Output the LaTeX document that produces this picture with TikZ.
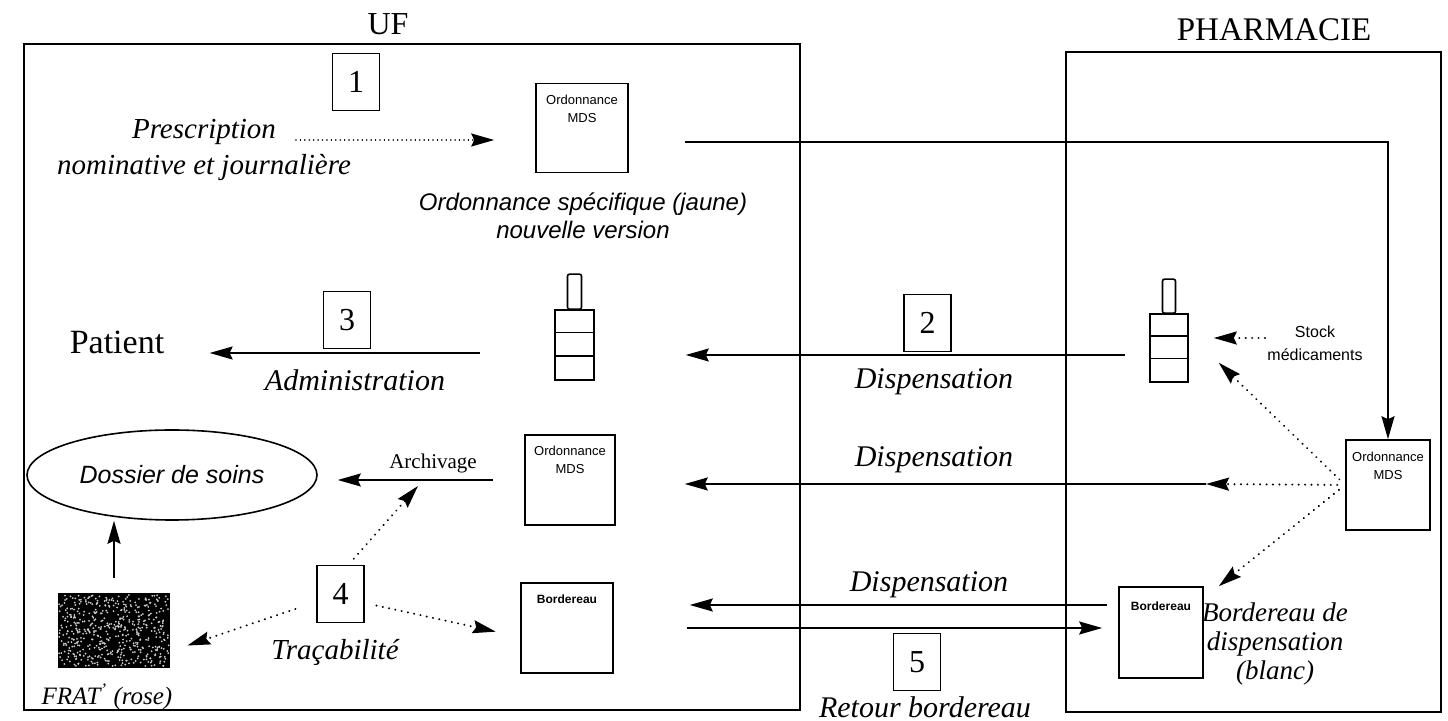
\documentclass[tikz,border=0pt]{standalone}
\usepackage{fontspec}
\setmainfont{Liberation Serif}
\setsansfont{Liberation Sans}
\usetikzlibrary{arrows.meta,calc,shapes.geometric}
\begin{document}
\begin{tikzpicture}[x=0.5pt,y=-0.5pt,
  frame/.style={draw, line width=1pt},
  tipsty/.tip={Stealth[length=11.5pt,width=6.5pt,inset=1.5pt]},
  arr/.style={line width=0.85pt, -tipsty},
  dotarr/.style={line width=1.1pt, dash pattern=on 0.01pt off 3.2pt, line cap=round, -tipsty},
  finedot/.style={line width=0.8pt, dash pattern=on 0.01pt off 2.2pt, line cap=round, -tipsty},
  numbox/.style={draw, line width=0.8pt, minimum width=23.5pt, minimum height=28.5pt, inner sep=0pt, font=\fontsize{16}{18}\selectfont},
  docbox/.style={draw, line width=0.8pt, inner sep=0pt},
  doclab/.style={font=\sffamily\fontsize{6.5}{9}\selectfont, align=center, inner sep=0pt, anchor=north},
  itlab/.style={font=\itshape\fontsize{15}{18}\selectfont, inner sep=0pt, align=center},
  bline/.style={line width=0.8pt}
]
\useasboundingbox (0,0) rectangle (1448,721);

% frames and titles
\draw[frame] (24,44) rectangle (800,710);
\draw[frame] (1066,52) rectangle (1441,712);
\node[font=\fontsize{16}{18}\selectfont, inner sep=0pt] (uflab) at (388,24) {UF};
\node[font=\fontsize{16.5}{18}\selectfont, inner sep=0pt] (pharmlab) at (1274,30) {PHARMACIE};

% number boxes
\node[numbox] (n1) at (356,82) {1};
\node[numbox] (n3) at (347,320) {3};
\node[numbox] (n2) at (927.5,323) {2};
\node[numbox] (n4) at (340.5,594) {4};
\node[numbox] (n5) at (917,662) {5};

% step 1
\node[itlab, font=\itshape\fontsize{14.5}{18}\selectfont] (presc) at (204,150) {Prescription\\nominative et journalière};
\node[docbox, minimum width=46pt, minimum height=44.5pt] (ord1) at (582,128) {};
\node[doclab] (ord1lab) at ($(ord1.north)+(0,12)$) {Ordonnance\\MDS};
\node[font=\sffamily\itshape\fontsize{12}{14}\selectfont, align=center, inner sep=0pt] (ordspec) at (583,216) {Ordonnance spécifique (jaune)\\nouvelle version};
\coordinate (prestart) at (296,140);
\draw[finedot, shorten >=20.5pt] (prestart) -- (prestart -| ord1.west);

% pharmacy ordonnance
\node[docbox, minimum width=42pt, minimum height=45pt] (ord3) at (1388,485) {};
\node[doclab] (ord3lab) at ($(ord3.north)+(0,12)$) {Ordonnance\\MDS};
\draw[arr] ($(ord1.east)+(56,14)$) -| (ord3.north);

% bottles
\node[docbox, minimum width=19.5pt, minimum height=35pt] (b1) at (574.5,345) {};
\draw[bline, rounded corners=1pt] ($(b1.north)+(-7,0)$) rectangle ($(b1.north)+(7,-35)$);
\draw[bline] ($(b1.north west)+(0,23.3)$) -- ($(b1.north east)+(0,23.3)$);
\draw[bline] ($(b1.north west)+(0,46.7)$) -- ($(b1.north east)+(0,46.7)$);
\node[docbox, minimum width=19pt, minimum height=34pt] (b2) at (1169,348) {};
\draw[bline, rounded corners=1pt] ($(b2.north)+(-6.5,0)$) rectangle ($(b2.north)+(6.5,-34)$);
\draw[bline] ($(b2.north west)+(0,22.7)$) -- ($(b2.north east)+(0,22.7)$);
\draw[bline] ($(b2.north west)+(0,45.3)$) -- ($(b2.north east)+(0,45.3)$);

% patient / administration
\node[font=\fontsize{17}{20}\selectfont, inner sep=0pt] (patient) at (117,342) {Patient};
\coordinate (a3s) at ($(b1.west)+(0,8)$);
\draw[arr, shorten <=37pt, shorten >=22.5pt] (a3s) -- (a3s -| patient.east);
\node[itlab] (admin) at (355,380) {Administration};

% dispensation 2 (bottle)
\coordinate (a2s) at ($(b2.west)+(0,7)$);
\draw[arr, shorten <=12pt, shorten >=45.5pt] (a2s) -- (a2s -| b1.east);
\node[itlab] (disp1) at (934,382) {Dispensation};

% stock
\node[font=\sffamily\fontsize{8}{11.5}\selectfont, align=center, inner sep=1pt] (stock) at (1315,343) {Stock\\médicaments};
\coordinate (stk) at ($(stock.west)+(0,-5)$);
\draw[dotarr, shorten >=12.5pt] (stk) -- (stk -| b2.east);

% archivage
\node[draw, ellipse, line width=0.8pt, minimum width=145pt, minimum height=45pt, inner sep=0pt,
      font=\sffamily\itshape\fontsize{12.5}{15}\selectfont] (ell) at (172,475) {Dossier de soins\hspace{10pt}};
\node[docbox, minimum width=45pt, minimum height=45pt] (ord2) at (570,480) {};
\node[doclab] (ord2lab) at ($(ord2.north)+(0,11)$) {Ordonnance\\MDS};
\draw[arr, shorten <=15.5pt, shorten >=10pt] (ord2.west) -- (ord2.west -| ell.east);
\node[font=\fontsize{10.5}{12}\selectfont, inner sep=0pt] (archiv) at (433,463) {Archivage};

% middle dispensation
\coordinate (mid) at (1206,484);
\draw[dotarr, shorten <=4pt] (ord3.west) -- (mid);
\draw[arr, shorten >=34.5pt] (mid) -- (mid -| ord2.east);
\node[itlab] (disp2) at (934,460) {Dispensation};
\draw[dotarr, shorten <=4pt] (ord3.west) -- ($(b2.south east)+(30,-20)$);

% bordereaux
\node[docbox, minimum width=46pt, minimum height=45pt] (bord1) at (567,628) {};
\node[doclab, font=\sffamily\bfseries\fontsize{6}{9}\selectfont] (bord1lab) at ($(bord1.north)+(0,12)$) {Bordereau};
\node[docbox, minimum width=42pt, minimum height=45.5pt] (bord2) at (1161,632.5) {};
\node[doclab, font=\sffamily\bfseries\fontsize{6}{9}\selectfont] (bord2lab) at ($(bord2.north)+(0,15)$) {Bordereau};
\draw[dotarr, shorten <=4pt] (ord3.west) -- ($(bord2.north east)+(15,0)$);
\node[itlab, font=\itshape\fontsize{13.5}{14.5}\selectfont] (borddesc) at (1275,644) {Bordereau de\\dispensation\\(blanc)};

\draw[arr, shorten <=5.5pt, shorten >=38pt] ($(bord2.west)+(0,-27.5)$) -- ($(bord1.east)+(0,-23)$);
\node[itlab] (disp3) at (929,585) {Dispensation};
\draw[arr, shorten <=36.5pt, shorten >=8pt] (bord1.east) -- (bord1.east -| bord2.west);
\node[itlab] (retour) at (925,707) {Retour bordereau};

% FRAT
\node[fill=black, minimum width=56pt, minimum height=37.5pt, inner sep=0pt] (frat) at (114,630.5) {};
\pgfmathsetseed{7}
\foreach \i in {1,...,520} {
  \fill[white!80!black] ({59+110*rnd},{595+71*rnd}) circle (0.5pt);
}
\node[font=\itshape\fontsize{12.5}{15}\selectfont, inner sep=0pt] (fratlab) at (107,697) {FRAT\textsuperscript{'} (rose)};
\draw[arr, shorten <=7.5pt] (frat.north) -- (frat.north |- ell.south);

% tracabilite
\node[itlab, font=\itshape\fontsize{14.5}{18}\selectfont] (trac) at (335,652) {Traçabilité};
\coordinate (archpt) at (418,486);
\draw[dotarr, shorten <=4pt] ($(n4.north)+(8,0)$) -- (archpt);
\draw[dotarr, shorten <=11pt] (n4.198) -- ($(frat.east)+(17,15)$);
\draw[dotarr, shorten <=6pt, shorten >=12.5pt] ($(n4.east)+(0,9)$) -- ($(bord1.west)+(0,9)$);

\end{tikzpicture}
\end{document}
